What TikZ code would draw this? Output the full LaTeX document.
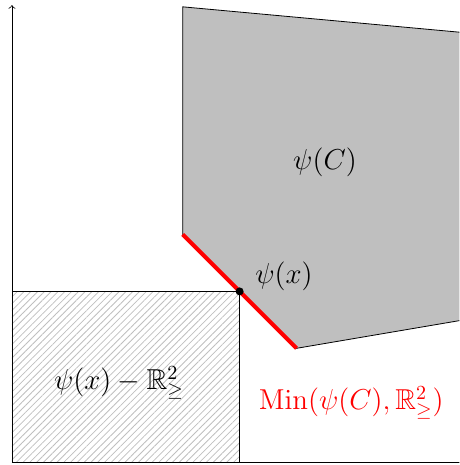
\documentclass[tikz,border=0pt]{standalone}
\usepackage{tikz}
\usepackage{xcolor}
\usepackage{amsmath}
\usepackage{amssymb}
\usetikzlibrary{patterns.meta}

\begin{document}
\begin{tikzpicture}

\useasboundingbox (-0.21,-0.05) rectangle (7.86,8.12);
\clip (-0.21,-0.05) rectangle (7.86,8.12);

% image set
\draw[fill=gray!50] (3,8) -- (9,7.45) -- (9,2.68) -- (5,2) -- (3,4) -- cycle;

% cone at psi(x)
\draw[
    pattern={Lines[angle=45,distance=2.4pt,line width=0.4pt]},
    pattern color=gray!50
] (0,0) rectangle (4,3);

% axes
\coordinate (o) at (0,0);
\coordinate (ytop) at (0,8.03);
\coordinate (xend) at (8,0);
\draw[->] (o) -- (ytop);
\draw (o) -- (xend);

% minimal part
\coordinate (m1) at (3,4);
\coordinate (m2) at (5,2);
\draw[red, line width=2pt] (m1) -- (m2);

\fill (4,3) circle (2pt) coordinate (px);

\node[font=\Large] (img) at (5.5,5.27) {$\psi(C)$};
\node[font=\Large] (lpx) at (4.78,3.27) {$\psi(x)$};
\node[font=\Large] (cone) at (1.88,1.39) {$\psi(x) - \mathbb{R}^2_{\geq}$};
\node[font=\Large, text=red] (minset) at (5.96,1.04) {$\mathrm{Min}(\psi(C), \mathbb{R}^2_{\geq})$};

\end{tikzpicture}
\end{document}
